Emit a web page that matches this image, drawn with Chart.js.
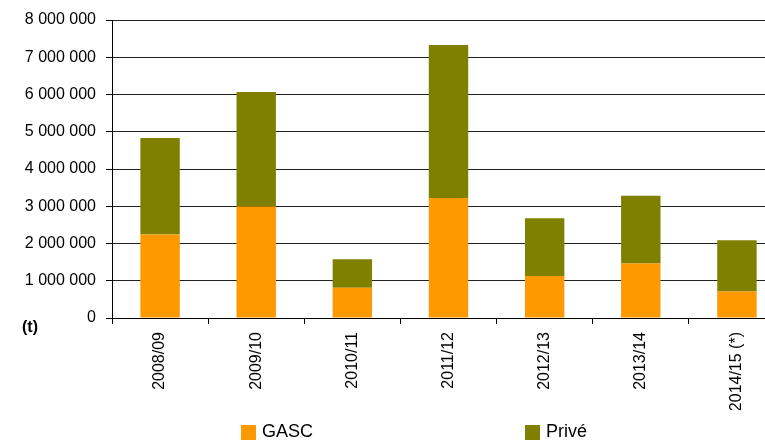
<!DOCTYPE html>
<html>
<head>
<meta charset="utf-8">
<script src="https://cdn.jsdelivr.net/npm/chart.js@4"></script>
<style>
  html, body { margin: 0; padding: 0; background: #fff; overflow: hidden; }
  #wrap { width: 790px; height: 440px; }
</style>
</head>
<body>
<div id="wrap"><canvas id="myChart" width="790" height="440"></canvas></div>
<script>
// Campagnes
const campagnes = ['2008/09', '2009/10', '2010/11', '2011/12', '2012/13', '2013/14', '2014/15 (*)'];

// Achats en tonnes
const gasc = [2240000, 2990000, 810000, 3220000, 1130000, 1460000, 710000];
const prive = [2590000, 3080000, 770000, 4110000, 1550000, 1820000, 1380000];

const yMax = 8000000;
const yStep = 1000000;

const police = "'Liberation Sans', Arial, sans-serif";

// Format "8 000 000"
function formatNombre(v) {
    return String(v).replace(/\B(?=(\d{3})+(?!\d))/g, ' ');
}

// Légende et unité dessinées à la main
const legendePlugin = {
    id: 'legendePlugin',
    afterDraw(chart) {
        const c = chart.ctx;
        c.save();
        c.fillStyle = '#000';
        c.font = 'bold 16px ' + police;
        c.textAlign = 'left';
        c.textBaseline = 'middle';
        c.fillText('(t)', 22, 328);

        const pos = [241, 525];
        c.font = '18px ' + police;
        chart.data.datasets.forEach((ds, i) => {
            c.fillStyle = ds.backgroundColor;
            c.fillRect(pos[i], 425, 15, 15);
            c.fillStyle = '#000';
            c.fillText(ds.label, pos[i] + 21, 432);
        });
        c.restore();
    }
};

const ctx = document.getElementById('myChart').getContext('2d');
let myChart = new Chart(ctx, {
    type: 'bar',
    data: {
        labels: campagnes,
        datasets: [
            { label: 'GASC', data: gasc, backgroundColor: '#FF9900', borderWidth: 0 },
            { label: 'Privé', data: prive, backgroundColor: '#808000', borderWidth: 0 }
        ]
    },
    options: {
        responsive: false,
        animation: false,
        layout: { padding: { top: 20, right: 5, bottom: 30, left: 0 } },
        datasets: { bar: { categoryPercentage: 1, barPercentage: 0.41 } },
        plugins: {
            legend: { display: false },
            tooltip: { enabled: false }
        },
        scales: {
            x: {
                stacked: true,
                afterFit: (s) => { s.height = 92; },
                grid: { display: true, drawOnChartArea: false, drawTicks: true, tickLength: 6, tickColor: '#000', offset: true },
                border: { display: true, color: '#000', width: 1 },
                ticks: {
                    color: '#000',
                    font: { family: police, size: 16 },
                    minRotation: 90,
                    maxRotation: 90,
                    padding: 8,
                    autoSkip: false
                }
            },
            y: {
                stacked: true,
                min: 0,
                max: yMax,
                afterFit: (s) => { s.width = 112; },
                grid: { color: '#222', lineWidth: 1, drawTicks: true, tickLength: 6, tickColor: '#000' },
                border: { display: true, color: '#000', width: 1 },
                ticks: {
                    stepSize: yStep,
                    color: '#000',
                    font: { family: police, size: 16 },
                    padding: 10,
                    callback: (v) => formatNombre(v)
                }
            }
        }
    },
    plugins: [legendePlugin]
});
</script>
</body>
</html>
